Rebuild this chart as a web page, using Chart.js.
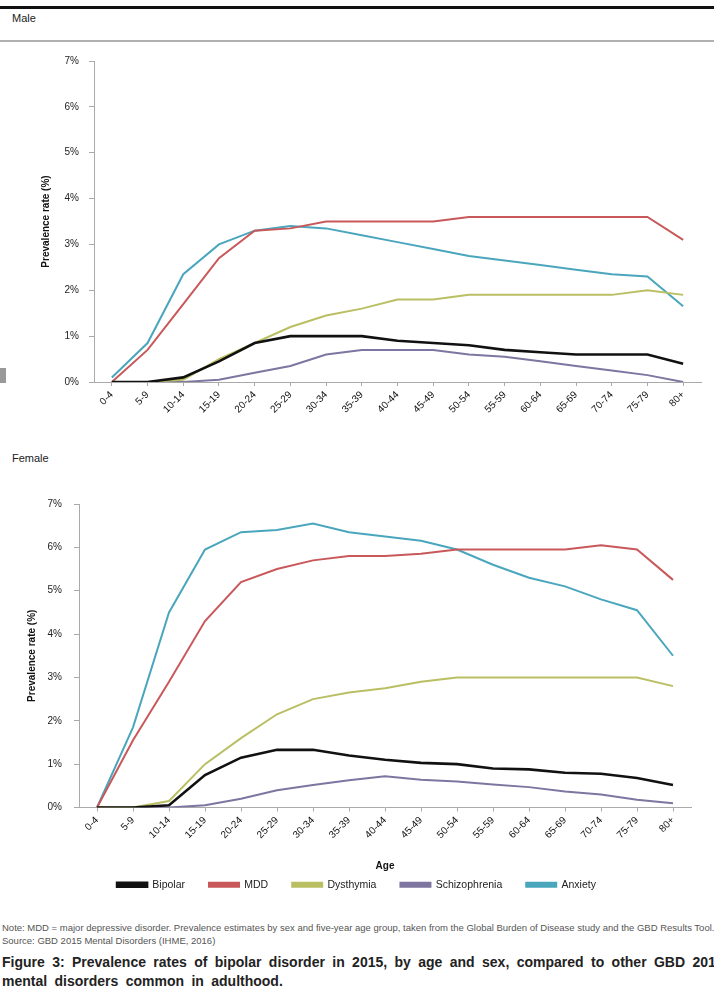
<!DOCTYPE html>
<html>
<head>
<meta charset="utf-8">
<script src="https://cdn.jsdelivr.net/npm/chart.js@4"></script>
<style>
  body { margin: 0; width: 714px; height: 1004px; background: #fff; font-family: "Liberation Sans", Arial, sans-serif; position: relative; overflow: hidden; }
  .bar-top { position: absolute; left: 0; top: 6px; width: 714px; height: 3px; background: #111; }
  .bar-gray { position: absolute; left: 0; top: 40px; width: 714px; height: 2px; background: #b0b0b0; }
  .marca { position: absolute; left: 0; top: 368px; width: 6px; height: 15px; background: #999; }
  .sexo { position: absolute; left: 12px; font-size: 11px; color: #222; }
  canvas { position: absolute; left: 0; }
  .nota { position: absolute; left: 2px; top: 921px; font-size: 9.5px; color: #555; line-height: 13px; white-space: nowrap; }
  .titulo { position: absolute; left: 2px; top: 953px; font-size: 14px; font-weight: bold; color: #222; line-height: 19px; white-space: nowrap; word-spacing: 3.5px; }
</style>
</head>
<body>
<div class="bar-top"></div>
<div class="sexo" style="top:12px">Male</div>
<div class="bar-gray"></div>
<div class="marca"></div>
<canvas id="graficoHombres" width="714" height="400" style="top:45px"></canvas>
<div class="sexo" style="top:452px">Female</div>
<canvas id="graficoMujeres" width="714" height="420" style="top:480px"></canvas>
<div class="nota">Note: MDD = major depressive disorder. Prevalence estimates by sex and five-year age group, taken from the Global Burden of Disease study and the GBD Results Tool.<br>Source: GBD 2015 Mental Disorders (IHME, 2016)</div>
<div class="titulo">Figure 3: Prevalence rates of bipolar disorder in 2015, by age and sex, compared to other GBD 2015<br>mental disorders common in adulthood.</div>

<script>
// Age groups (x axis)
const edades = ["0-4", "5-9", "10-14", "15-19", "20-24", "25-29", "30-34", "35-39", "40-44",
  "45-49", "50-54", "55-59", "60-64", "65-69", "70-74", "75-79", "80+"];
const ticksY = [0, 1, 2, 3, 4, 5, 6, 7];

// Male prevalence (%)
const hBipolar = [0, 0, 0.1, 0.45, 0.85, 1.0, 1.0, 1.0, 0.9, 0.85, 0.8, 0.7, 0.65, 0.6, 0.6, 0.6, 0.4];
const hMDD = [0, 0.7, 1.7, 2.7, 3.3, 3.35, 3.5, 3.5, 3.5, 3.5, 3.6, 3.6, 3.6, 3.6, 3.6, 3.6, 3.1];
const hDysthymia = [0, 0, 0.05, 0.5, 0.85, 1.2, 1.45, 1.6, 1.8, 1.8, 1.9, 1.9, 1.9, 1.9, 1.9, 2.0, 1.9];
const hSchizophrenia = [0, 0, 0, 0.05, 0.2, 0.35, 0.6, 0.7, 0.7, 0.7, 0.6, 0.55, 0.45, 0.35, 0.25, 0.15, 0];
const hAnxiety = [0.1, 0.85, 2.35, 3.0, 3.3, 3.4, 3.35, 3.2, 3.05, 2.9, 2.75, 2.65, 2.55, 2.45, 2.35, 2.3, 1.65];

// Female prevalence (%)
const mBipolar = [0, 0, 0.05, 0.75, 1.15, 1.33, 1.33, 1.2, 1.1, 1.03, 1.0, 0.9, 0.88, 0.8, 0.78, 0.68, 0.52];
const mMDD = [0, 1.55, 2.9, 4.3, 5.2, 5.5, 5.7, 5.8, 5.8, 5.85, 5.95, 5.95, 5.95, 5.95, 6.05, 5.95, 5.25];
const mDysthymia = [0, 0, 0.15, 1.0, 1.6, 2.15, 2.5, 2.65, 2.75, 2.9, 3.0, 3.0, 3.0, 3.0, 3.0, 3.0, 2.8];
const mSchizophrenia = [0, 0, 0, 0.05, 0.2, 0.4, 0.52, 0.63, 0.72, 0.64, 0.6, 0.53, 0.47, 0.37, 0.3, 0.18, 0.1];
const mAnxiety = [0, 1.85, 4.5, 5.95, 6.35, 6.4, 6.55, 6.35, 6.25, 6.15, 5.95, 5.6, 5.3, 5.1, 4.8, 4.55, 3.5];

const nombres = ["Bipolar", "MDD", "Dysthymia", "Schizophrenia", "Anxiety"];
const colores = ["#111111", "#c9585a", "#b9bf62", "#7e75a0", "#4aa6bd"];
const grosores = [2.6, 2, 2, 2, 2];

const fuente = { family: "'Liberation Sans', Arial, sans-serif", size: 10 };

function crearGrafico(id, series, cfg) {
  const ctx = document.getElementById(id).getContext("2d");
  return new Chart(ctx, {
    type: "line",
    data: {
      labels: edades,
      datasets: series.map((datos, i) => ({
        label: nombres[i],
        data: datos,
        borderColor: colores[i],
        backgroundColor: colores[i],
        borderWidth: grosores[i],
        pointRadius: 0,
        tension: 0
      }))
    },
    options: {
      responsive: false,
      animation: false,
      devicePixelRatio: 1,
      layout: { padding: cfg.padding },
      plugins: {
        tooltip: { enabled: false },
        legend: {
          display: cfg.leyenda,
          position: "bottom",
          labels: { boxWidth: 30, boxHeight: 4, padding: 24, color: "#222", font: { ...fuente, size: 10.5 } }
        }
      },
      scales: {
        x: {
          offset: true,
          grid: { drawOnChartArea: false, tickLength: 4, color: "#aaa" },
          border: { color: "#aaa" },
          ticks: { color: "#111", font: fuente, minRotation: 45, maxRotation: 45, autoSkip: false },
          title: { display: cfg.tituloX, text: "Age", color: "#111", font: { ...fuente, weight: "bold" }, padding: { top: 4, bottom: -17 } },
          // fixed box height; labels may spill into the legend's empty top padding
          afterFit: s => { s.height = cfg.altoX; }
        },
        y: {
          min: 0,
          max: 7,
          afterBuildTicks: s => { s.ticks = ticksY.map(v => ({ value: v })); },
          grid: { drawOnChartArea: false, tickLength: 5, color: "#aaa" },
          border: { color: "#aaa" },
          ticks: { color: "#222", font: fuente, padding: cfg.sepY, callback: v => v + "%" },
          title: { display: true, text: "Prevalence rate (%)", color: "#111", font: { ...fuente, weight: "bold" } },
          afterFit: s => { s.width = cfg.anchoY; }
        }
      }
    }
  });
}

// Male panel
crearGrafico("graficoHombres",
  [hBipolar, hMDD, hDysthymia, hSchizophrenia, hAnxiety],
  { padding: { left: 36, right: 13, top: 15, bottom: 0 }, anchoY: 58, altoX: 63, sepY: 10, leyenda: false, tituloX: false });

// Female panel
crearGrafico("graficoMujeres",
  [mBipolar, mMDD, mDysthymia, mSchizophrenia, mAnxiety],
  { padding: { left: 22, right: 23, top: 24, bottom: 0 }, anchoY: 57, altoX: 48, sepY: 12, leyenda: true, tituloX: true });
</script>
</body>
</html>
